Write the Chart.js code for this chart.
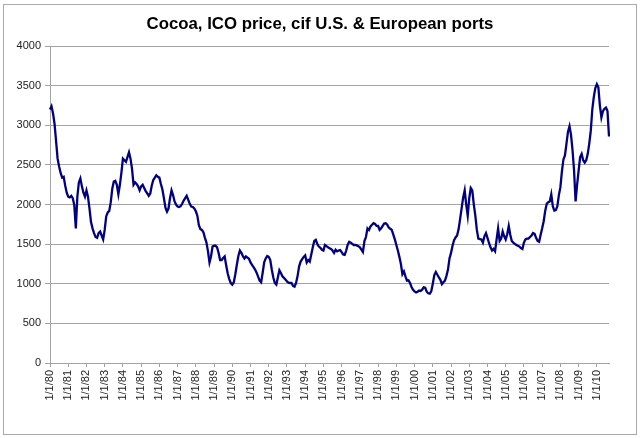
<!DOCTYPE html>
<html>
<head>
<meta charset="utf-8">
<title>Cocoa, ICO price</title>
<script src="https://cdn.jsdelivr.net/npm/chart.js@4.4.0/dist/chart.umd.min.js"></script>
<style>
    body { margin: 0; background: #fff; }
    #wrap { position: relative; width: 640px; height: 438px; }
    #frame {
        position: absolute; left: 3px; top: 4px; width: 632px; height: 429px;
        border: 1px solid #a8a8a8; pointer-events: none;
    }
</style>
</head>
<body>
<div id="wrap">
    <canvas id="cocoaChart" width="640" height="438"></canvas>
    <div id="frame"></div>
</div>
<script>
const chartTitle = 'Cocoa, ICO price, cif U.S. & European ports';

// monthly series starts January 1980
const startYear = 1980;

// US$ per tonne, one row per year
const prices1980s = [
    3200, 3240, 3150, 3020, 2800, 2580, 2480, 2400, 2340, 2350, 2240, 2150,
    2100, 2090, 2110, 2080, 1990, 1700, 2100, 2280, 2330, 2230, 2150, 2100,
    2180, 2100, 1950, 1780, 1700, 1640, 1590, 1580, 1640, 1660, 1610, 1560,
    1680, 1850, 1900, 1920, 2030, 2200, 2290, 2300, 2250, 2130, 2250, 2400,
    2580, 2560, 2540, 2600, 2660, 2580, 2450, 2250, 2280, 2260, 2230, 2180,
    2230, 2250, 2210, 2170, 2140, 2110, 2140, 2240, 2310, 2340, 2370, 2350,
    2340, 2260, 2190, 2080, 1960, 1910, 1950, 2080, 2180, 2120, 2040, 2000,
    1975, 1970, 1980, 2010, 2050, 2080, 2110, 2060, 2010, 1975, 1970, 1950,
    1915, 1860, 1740, 1690, 1680, 1650, 1580, 1520, 1410, 1270, 1345, 1470,
    1480, 1480, 1460, 1390, 1300, 1300, 1325, 1345, 1230, 1130, 1060, 1010
];

const prices1990s = [
    990, 1020, 1120, 1240, 1350, 1420, 1390, 1350, 1320, 1345, 1330, 1315,
    1270, 1240, 1210, 1180, 1140, 1090, 1040, 1020, 1140, 1270, 1320, 1350,
    1340, 1300, 1180, 1080, 1010, 990, 1080, 1170, 1135, 1095, 1075, 1055,
    1030, 1015, 1010, 1010, 975, 965, 1010, 1100, 1220, 1280, 1310, 1340,
    1360, 1270, 1300, 1280, 1370, 1460, 1540, 1555, 1500, 1470, 1455, 1430,
    1420, 1490, 1475, 1460, 1450, 1440, 1420, 1390, 1430, 1410, 1420, 1425,
    1400, 1370, 1365, 1420, 1495, 1530, 1520, 1505, 1490, 1490, 1485, 1475,
    1460, 1430, 1400, 1540, 1590, 1700, 1680, 1725, 1745, 1765, 1755, 1730,
    1730, 1680, 1700, 1730, 1760, 1765, 1745, 1710, 1695, 1680, 1620, 1560,
    1490, 1420, 1340, 1250, 1120, 1155, 1095, 1040, 1045, 1010, 960, 925
];

const prices2000s = [
    905, 890, 900, 915, 910, 925, 955, 950, 900, 880, 875, 905,
    1000, 1110, 1150, 1115, 1080, 1050, 995, 1020, 1040, 1100, 1180, 1320,
    1390, 1480, 1550, 1585, 1610, 1690, 1820, 1955, 2090, 2180, 2000, 1860,
    2080, 2210, 2180, 2000, 1860, 1680, 1570, 1565, 1560, 1520, 1600, 1640,
    1580, 1515, 1460, 1420, 1440, 1410, 1560, 1700, 1540, 1570, 1660, 1600,
    1560, 1625, 1730, 1620, 1540, 1520, 1505, 1490, 1480, 1470, 1450, 1440,
    1520, 1560, 1570, 1570, 1590, 1610, 1640, 1630, 1580, 1540, 1530, 1620,
    1700, 1790, 1920, 2010, 2030, 2040, 2130, 1980, 1925, 1930, 1980, 2120,
    2220, 2420, 2570, 2620, 2770, 2920, 2990, 2880, 2685, 2430, 2040, 2250,
    2430, 2600, 2640, 2560, 2530, 2560, 2640, 2770, 2930, 3200, 3360, 3470
];

const prices2010 = [3520, 3480, 3250, 3100, 3180, 3210, 3225, 3180, 2860];

const yMin = 0;
const yMax = 4000;
const yStep = 500;

const cocoaPrices = [...prices1980s, ...prices1990s, ...prices2000s, ...prices2010];

// category labels like 1/1/80, 2/1/80 ...
const monthLabels = cocoaPrices.map((v, i) => {
    const month = (i % 12) + 1;
    const yy = String((startYear + Math.floor(i / 12)) % 100).padStart(2, '0');
    return month + '/1/' + yy;
});

const fontFamily = "'Liberation Sans', Arial, sans-serif";
const gridGray = '#a4a4a4';

// the plot area is off-centre, but the title sits in the middle of the page
const centreTitle = {
    id: 'centreTitle',
    afterLayout(chart) {
        const block = chart.titleBlock;
        if (block) {
            block.left = 0;
            block.right = chart.width;
            block.width = chart.width;
        }
    }
};

const ctx = document.getElementById('cocoaChart').getContext('2d');
new Chart(ctx, {
    type: 'line',
    data: {
        labels: monthLabels,
        datasets: [{
            data: cocoaPrices,
            borderColor: '#000080',
            borderWidth: 2.3,
            pointRadius: 0,
            tension: 0,
            fill: false
        }]
    },
    options: {
        responsive: false,
        animation: false,
        layout: {
            padding: { left: 0, right: 31, top: 0, bottom: 0 }
        },
        plugins: {
            legend: { display: false },
            tooltip: { enabled: false },
            title: {
                display: true,
                text: chartTitle,
                color: '#000',
                font: { family: fontFamily, size: 16.8, weight: 'bold' },
                padding: { top: 14, bottom: 12 }
            }
        },
        scales: {
            x: {
                offset: false,
                grid: {
                    drawOnChartArea: false,
                    drawTicks: true,
                    tickLength: 4,
                    color: gridGray
                },
                border: { color: gridGray },
                ticks: {
                    autoSkip: false,
                    minRotation: 90,
                    maxRotation: 90,
                    padding: 3,
                    color: '#222',
                    font: { family: fontFamily, size: 11 },
                    // only January gets a label and a tick mark
                    callback: function(value, index) {
                        return index % 12 === 0 ? this.getLabelForValue(value) : null;
                    }
                },
                afterFit: scale => { scale.height = 75; }
            },
            y: {
                min: yMin,
                max: yMax,
                grid: {
                    color: gridGray,
                    tickLength: 5
                },
                border: { color: gridGray },
                ticks: {
                    stepSize: yStep,
                    padding: 4,
                    color: '#222',
                    font: { family: fontFamily, size: 11 },
                    callback: value => String(value)
                },
                afterFit: scale => { scale.width = 50; }
            }
        }
    },
    plugins: [centreTitle]
});
</script>
</body>
</html>
